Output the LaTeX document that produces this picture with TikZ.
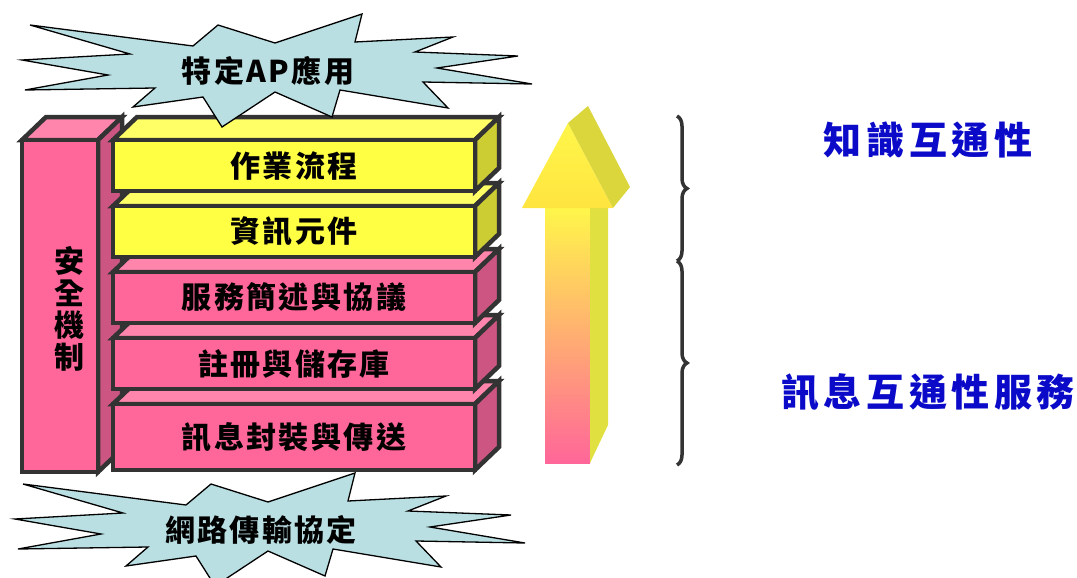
\documentclass[tikz,border=0pt]{standalone}
\usepackage{fontspec}
\usepackage{xcolor}
\usepackage{tikz}
\usetikzlibrary{positioning, decorations.pathreplacing}

\newfontfamily\cjk[LetterSpace=8]{Noto Sans CJK TC}
\newfontfamily\cjkwide[LetterSpace=12]{Noto Sans CJK TC}

\definecolor{edgegray}{HTML}{333333}
\definecolor{yellowfront}{HTML}{FFFF44}
\definecolor{yellowtop}{HTML}{FFFF66}
\definecolor{yellowside}{HTML}{CCCC33}
\definecolor{pinkfront}{HTML}{FF6699}
\definecolor{pinktop}{HTML}{FF85AD}
\definecolor{pinkside}{HTML}{CC5582}
\definecolor{burstblue}{HTML}{B9DFE3}
\definecolor{topicblue}{HTML}{0A0AC8}
\definecolor{arrowtop}{HTML}{FFF64A}
\definecolor{arroworange}{HTML}{FCB47A}
\definecolor{arrowside}{HTML}{E0E040}
\definecolor{headside}{HTML}{DAD63C}

\pgfdeclarelayer{background}
\pgfsetlayers{background,main}

\begin{document}
\begin{tikzpicture}[
    x=1pt, y=-1pt,
    every node/.style={font=\cjk\bfseries\fontsize{30}{32}\selectfont},
    layer/.style={rectangle, draw=edgegray, line width=4.5pt, outer sep=0pt, inner sep=0pt, minimum width=362pt, minimum height=51pt},
    yellowlayer/.style={layer, fill=yellowfront},
    pinklayer/.style={layer, fill=pinkfront},
    face/.style={draw=edgegray, line width=4.5pt},
    burst/.style={draw=black, line width=1.3pt, fill=burstblue},
    bracket/.style={decorate, decoration={brace, amplitude=10pt}, draw=edgegray, line width=3.5pt},
    topic/.style={text=topicblue, font=\cjkwide\bfseries\fontsize{38}{40}\selectfont}
]
\useasboundingbox (0,0) rectangle (1077,578);
\clip (0,0) rectangle (1077,578);

% security column
\node[layer, fill=pinkfront, minimum width=76pt, minimum height=332pt] (sec) at (60,306) {};
\node[align=center] (seclabel) at ([xshift=9pt, yshift=-3pt]sec.center) {安\\全\\機\\制};

% protocol stack, bottom up
\node[pinklayer, minimum height=66pt] (msg) at (294,437) {訊息封裝與傳送};
\node[pinklayer, above=15pt of msg] (reg) {註冊與儲存庫};
\node[pinklayer, above=15pt of reg] (svc) {服務簡述與協議};
\node[yellowlayer, above=15pt of svc] (info) {資訊元件};
\node[yellowlayer, above=15pt of info] (flow) {作業流程};

% top and side faces
\begin{pgfonlayer}{background}
\foreach \b/\tc/\sc in {sec/pinktop/pinkside, msg/pinktop/pinkside, reg/pinktop/pinkside,
                        svc/pinktop/pinkside, info/yellowtop/yellowside, flow/yellowtop/yellowside} {
  \draw[face, fill=\tc] (\b.north west) -- ([shift={(24,-23)}]\b.north west)
        -- ([shift={(24,-23)}]\b.north east) -- (\b.north east) -- cycle;
  \draw[face, fill=\sc] (\b.north east) -- ([shift={(24,-23)}]\b.north east)
        -- ([shift={(24,-23)}]\b.south east) -- (\b.south east) -- cycle;
}
\end{pgfonlayer}

% rising arrow
\shade[bottom color=pinkfront, middle color=arroworange, top color=arrowtop] (545,208) rectangle (590,463);
\fill[arrowside] (590,208) -- (608,208) -- (608,425) -- (590,463) -- cycle;
\shade[top color=arrowtop, bottom color=arrowtop!85!orange] (522,208) -- (568,123) -- (613,208) -- cycle;
\fill[headside] (568,123) -- (588,106) -- (630,187) -- (613,208) -- cycle;

% braces
\coordinate (b1) at (677,116);
\coordinate (b2) at (677,261);
\coordinate (b3) at (677,465);
\draw[bracket] (b1) -- (b2);
\draw[bracket] (b2) -- (b3);

\node[topic] (know) at (928,140) {知識互通性};
\node[topic] (msgsvc) at (928,392) {訊息互通性服務};

% bursts above and below the stack
\foreach \dx/\dy/\name/\txt in {0/0/app/特定AP應用, -7/459/net/網路傳輸協定} {
  \begin{scope}[shift={(\dx,\dy)}]
    \draw[burst] (30,25) -- (193,46) -- (218,25) -- (275,43) -- (362,14) -- (355,42)
      -- (453,37) -- (415,52) -- (518,56) -- (437,68) -- (532,84) -- (423,82)
      -- (448,108) -- (340,90) -- (332,117) -- (275,92) -- (222,127) -- (203,97)
      -- (133,107) -- (155,88) -- (25,90) -- (108,75) -- (22,60) -- (130,54) -- cycle;
    \node (\name) at (268,71) {\txt};
  \end{scope}
}

\end{tikzpicture}
\end{document}
